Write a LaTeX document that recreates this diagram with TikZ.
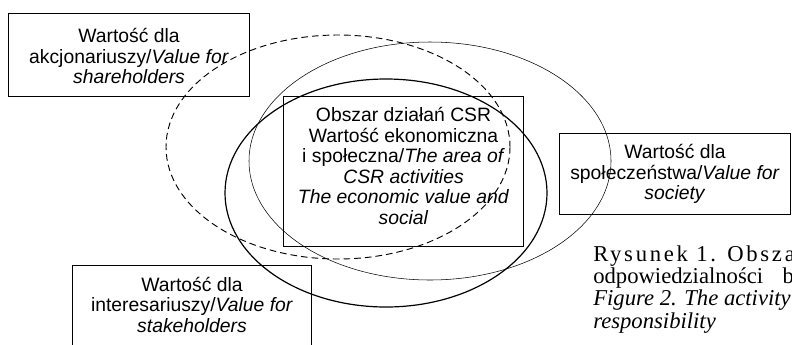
\documentclass[tikz,border=0pt]{standalone}
\usepackage{fontspec}
\setmainfont{Liberation Serif}
\setsansfont{Liberation Sans}
\usetikzlibrary{positioning}

\begin{document}
\begin{tikzpicture}[x=0.75pt,y=-0.75pt,
                box/.style={draw,line width=0.8pt,inner sep=0pt,anchor=north west},
                val text/.style={align=center,inner sep=0pt,font=\sffamily\fontsize{14.5}{15.4}\selectfont},
                caption text/.style={align=left,inner sep=0pt,anchor=north west,font=\rmfamily\fontsize{17}{16.8}\selectfont}]
                \useasboundingbox (0,0) rectangle (792,344);
                \clip (0,0) rectangle (792,344);

                \node[box,minimum width=241*0.75pt,minimum height=83*0.75pt] (akcj) at (8,13) {};
                \node[box,minimum width=240*0.75pt,minimum height=150*0.75pt] (csr) at (283,96) {};
                \node[box,minimum width=231*0.75pt,minimum height=81*0.75pt] (spol) at (559,133) {};
                \node[box,minimum width=239*0.75pt,minimum height=100*0.75pt] (inter) at (72,265) {};

                \node[val text,below=11.5pt of akcj.north] (akcj text)
                    {Wartość dla\\akcjonariuszy/\textit{Value for}\\\textit{shareholders}};
                \node[val text,below=8.5pt of csr.north] (csr text)
                    {Obszar działań CSR\\Wartość ekonomiczna\\i społeczna/\textit{The area of}\\
                     \textit{CSR activities}\\\textit{The economic value and}\\\textit{social}};
                \node[val text] (spol text) at (spol)
                    {Wartość dla\\społeczeństwa/\textit{Value for}\\\textit{society}};
                \node[val text,below=8.7pt of inter.north] (inter text)
                    {Wartość dla\\interesariuszy/\textit{Value for}\\\textit{stakeholders}};

                % the three value areas
                \coordinate (akcj c) at (338,147);
                \coordinate (spol c) at (430,161);
                \coordinate (inter c) at (386,193);
                \draw[line width=0.7pt,dash pattern=on 5pt off 3pt] (akcj c) ellipse [x radius=172,y radius=112];
                \draw[line width=0.4pt] (spol c) ellipse [x radius=181,y radius=119];
                \draw[line width=0.9pt] (inter c) ellipse [x radius=161,y radius=114];

                \node[caption text] (cap) at (593,245)
                    {{\addfontfeature{LetterSpace=12}Rysunek 1. Obszar}\\
                     odpowiedzialności\hspace{14.5pt}biznesu\\
                     \textit{Figure 2. The activity}\\
                     \textit{responsibility}};
\end{tikzpicture}
\end{document}
